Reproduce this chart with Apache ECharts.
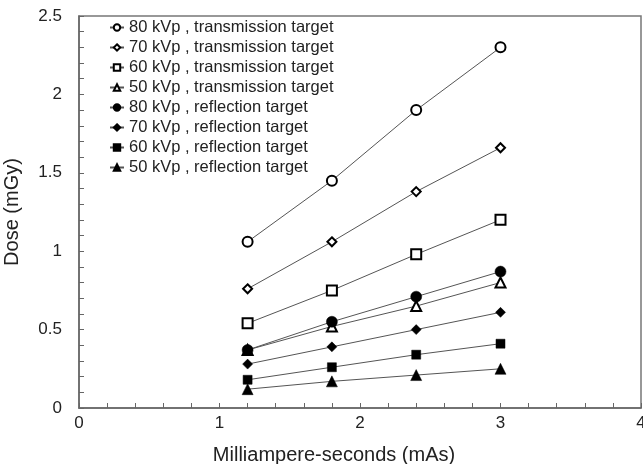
<!DOCTYPE html>
<html>
<head>
<meta charset="utf-8">
<script src="https://cdn.jsdelivr.net/npm/echarts@6/dist/echarts.min.js"></script>
<style>html,body{margin:0;padding:0;background:#fff}#c{width:643px;height:464px}</style>
</head>
<body>
<div id="c"></div>
<script>
var mAs = [1.2, 1.8, 2.4, 3.0];
var seriesNames = [
  '80 kVp , transmission target',
  '70 kVp , transmission target',
  '60 kVp , transmission target',
  '50 kVp , transmission target',
  '80 kVp , reflection target',
  '70 kVp , reflection target',
  '60 kVp , reflection target',
  '50 kVp , reflection target'
];
var t80 = [1.06, 1.45, 1.90, 2.30];
var t70 = [0.76, 1.06, 1.38, 1.66];
var t60 = [0.54, 0.75, 0.98, 1.20];
var t50 = [0.37, 0.52, 0.65, 0.80];
var r80 = [0.37, 0.55, 0.71, 0.87];
var r70 = [0.28, 0.39, 0.50, 0.61];
var r60 = [0.18, 0.26, 0.34, 0.41];
var r50 = [0.12, 0.17, 0.21, 0.25];
var xTicks = [0, 1, 2, 3, 4];
var yTicks = [0, 0.5, 1, 1.5, 2, 2.5];

var values = [t80, t70, t60, t50, r80, r70, r60, r50];
var symbols = ['circle', 'diamond', 'rect', 'triangle', 'circle', 'diamond', 'rect', 'triangle'];
var sizes = [10, 9, 10, 10, 11, 10, 9, 11];
var filled = [false, false, false, false, true, true, true, true];

var series = values.map(function (v, i) {
  return {
    name: seriesNames[i],
    type: 'line',
    data: v.map(function (y, j) { return [mAs[j], y]; }),
    symbol: symbols[i],
    symbolSize: sizes[i],
    showSymbol: true,
    lineStyle: { color: '#555', width: 1 },
    itemStyle: filled[i]
      ? { color: '#000', borderColor: '#000', borderWidth: 0.5 }
      : { color: '#fff', borderColor: '#000', borderWidth: 2 },
    z: 2 + i,
    animation: false
  };
});

var font = 'Liberation Sans, Arial, sans-serif';
var chart = echarts.init(document.getElementById('c'));
chart.setOption({
  animation: false,
  backgroundColor: '#fff',
  grid: { left: 79, right: 2, top: 16, bottom: 56, containLabel: false, outerBoundsMode: 'none',
    show: true, borderColor: '#777', borderWidth: 1.5, backgroundColor: 'transparent' },
  legend: {
    orient: 'vertical', left: 109, top: 19, padding: 0,
    itemWidth: 14, itemHeight: 8, itemGap: 3,
    textStyle: { fontFamily: font, fontSize: 16.5, color: '#222' },
    data: seriesNames
  },
  xAxis: {
    type: 'value', min: 0, max: 4, interval: 1,
    name: 'Milliampere-seconds (mAs)', nameLocation: 'middle', nameGap: 37,
    nameTextStyle: { fontFamily: font, fontSize: 20, color: '#222', padding: [0, 52, 0, 0] },
    axisLine: { show: true, lineStyle: { color: '#666', width: 1.5 } },
    axisTick: { show: true, inside: true, length: 5, lineStyle: { color: '#666' } },
    minorTick: { show: true, splitNumber: 5, length: 5, lineStyle: { color: '#666' } },
    axisLabel: { fontFamily: font, fontSize: 17, color: '#222', margin: 7,
      formatter: function (v) { return xTicks.indexOf(v) >= 0 ? String(v) : ''; } },
    splitLine: { show: false }
  },
  yAxis: {
    type: 'value', min: 0, max: 2.5, interval: 0.5,
    name: 'Dose (mGy)', nameLocation: 'middle', nameGap: 57,
    nameTextStyle: { fontFamily: font, fontSize: 20, color: '#222' },
    axisLine: { show: true, lineStyle: { color: '#666', width: 1.5 } },
    axisTick: { show: true, inside: true, length: 5, lineStyle: { color: '#666' } },
    minorTick: { show: true, splitNumber: 5, length: 5, lineStyle: { color: '#666' } },
    axisLabel: { fontFamily: font, fontSize: 17, color: '#222', margin: 17,
      formatter: function (v) { return yTicks.indexOf(v) >= 0 ? String(v) : ''; } },
    splitLine: { show: false }
  },
  series: series
});
</script>
</body>
</html>
